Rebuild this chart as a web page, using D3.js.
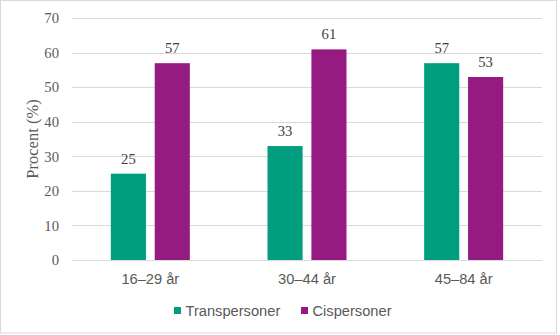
<!DOCTYPE html>
<html>
<head>
<meta charset="utf-8">
<script src="https://cdn.jsdelivr.net/npm/d3@7"></script>
<style>
  body { margin: 0; background: #fff; }
  svg { display: block; }
</style>
</head>
<body>
<svg id="chart" width="560" height="335"></svg>
<script>
const categories = ["16–29 år", "30–44 år", "45–84 år"];
const seriesNames = ["Transpersoner", "Cispersoner"];
const transValues = [25, 33, 57];
const cisValues = [57, 61, 53];
const yTicks = [0, 10, 20, 30, 40, 50, 60, 70];
const colors = ["#009E7E", "#951B80"];

(function () {
const svg = d3.select("#chart");
const plotLeft = 72, plotRight = 542, plotTop = 18.3, plotBottom = 260;

// outer border
svg.append("rect").attr("x", 0.5).attr("y", 0.5).attr("width", 556).attr("height", 332.5)
  .attr("fill", "#fff").attr("stroke", "#d9d9d9");

const y = d3.scaleLinear().domain([0, 70]).range([plotBottom, plotTop]);
const x0 = d3.scaleBand().domain(categories).range([plotLeft, plotRight]).padding(0);
const x1 = d3.scaleBand().domain(seriesNames).range([-39.5, 39.5]).paddingInner(0.2);

// gridlines
svg.append("g").selectAll("line").data(yTicks).join("line")
  .attr("x1", plotLeft).attr("x2", plotRight)
  .attr("y1", d => Math.round(y(d)) + 0.5).attr("y2", d => Math.round(y(d)) + 0.5)
  .attr("stroke", "#d9d9d9").attr("stroke-width", 1);

// y tick labels
svg.append("g").selectAll("text").data(yTicks).join("text")
  .attr("x", 59).attr("y", d => y(d)).attr("dy", "0.35em")
  .attr("text-anchor", "end")
  .attr("font-family", "'Liberation Serif', 'Times New Roman', serif")
  .attr("font-size", 14.67).attr("fill", "#595959")
  .text(d => d);

// y title
svg.append("text")
  .attr("transform", "translate(38,139) rotate(-90)")
  .attr("text-anchor", "middle")
  .attr("font-family", "'Liberation Serif', 'Times New Roman', serif")
  .attr("font-size", 16.5).attr("fill", "#595959")
  .text("Procent (%)");

const data = categories.map((c, i) => ({
  cat: c,
  vals: [
    { s: seriesNames[0], v: transValues[i], c: colors[0] },
    { s: seriesNames[1], v: cisValues[i], c: colors[1] }
  ]
}));

const groups = svg.append("g").selectAll("g").data(data).join("g")
  .attr("transform", d => `translate(${x0(d.cat) + x0.bandwidth() / 2},0)`);

groups.selectAll("rect").data(d => d.vals).join("rect")
  .attr("x", d => x1(d.s)).attr("width", x1.bandwidth())
  .attr("y", d => y(d.v)).attr("height", d => y(0) - y(d.v))
  .attr("fill", d => d.c);

groups.selectAll("text.val").data(d => d.vals).join("text")
  .attr("class", "val")
  .attr("x", d => x1(d.s) + x1.bandwidth() / 2)
  .attr("y", d => y(d.v) - 10)
  .attr("text-anchor", "middle")
  .attr("font-family", "'Liberation Serif', 'Times New Roman', serif")
  .attr("font-size", 14.67).attr("fill", "#404040")
  .text(d => d.v);

// category labels
svg.append("g").selectAll("text").data(categories).join("text")
  .attr("x", d => x0(d) + x0.bandwidth() / 2).attr("y", 284)
  .attr("text-anchor", "middle")
  .attr("font-family", "'Liberation Sans', Arial, sans-serif")
  .attr("font-size", 14.67).attr("fill", "#595959")
  .text(d => d);

// legend
const legendX = [174, 301];
const lg = svg.append("g").selectAll("g").data(seriesNames).join("g")
  .attr("transform", (d, i) => `translate(${legendX[i]},0)`);
lg.append("rect").attr("x", 0).attr("y", 307).attr("width", 7).attr("height", 7)
  .attr("fill", (d, i) => colors[i]);
lg.append("text").attr("x", 11.5).attr("y", 316)
  .attr("font-family", "'Liberation Sans', Arial, sans-serif")
  .attr("font-size", 14.67).attr("fill", "#595959")
  .text(d => d);
})();
</script>
</body>
</html>
